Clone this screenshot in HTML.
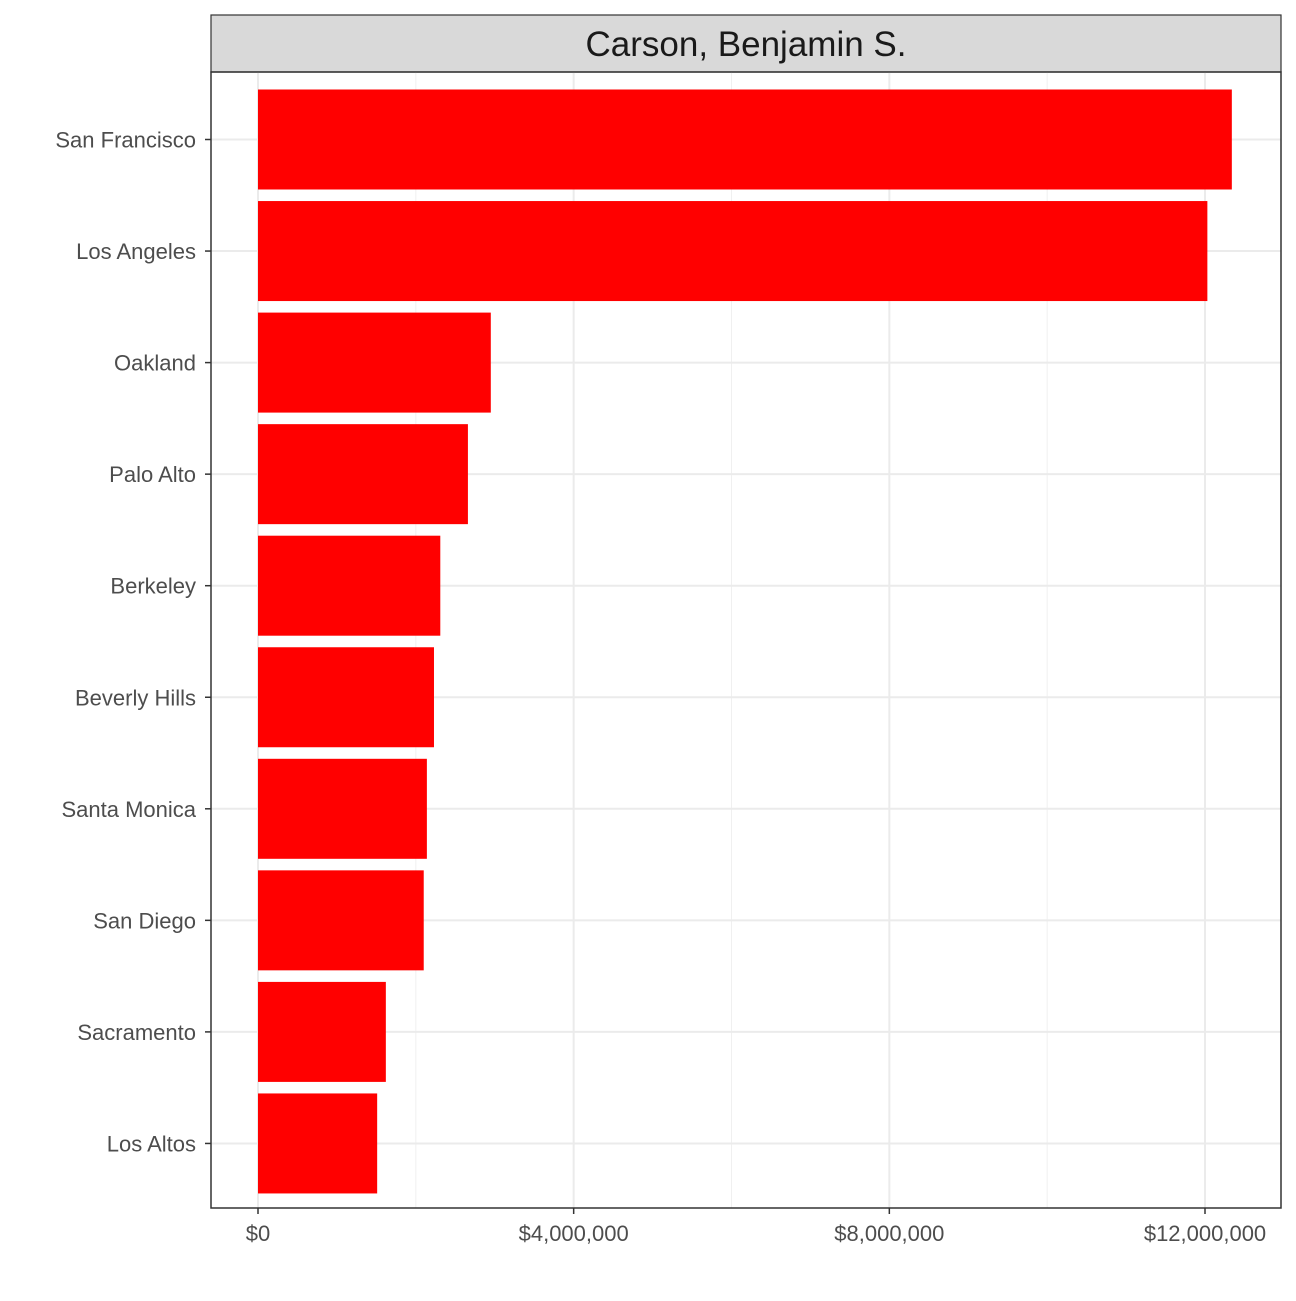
<!DOCTYPE html>
<html><head><meta charset="utf-8"><style>
body{margin:0;background:#fff}
svg text{font-family:"Liberation Sans",Arial,sans-serif}
</style></head><body>
<svg id="c" width="1296" height="1296" xmlns="http://www.w3.org/2000/svg"></svg>
<script>
const categories=["San Francisco","Los Angeles","Oakland","Palo Alto","Berkeley","Beverly Hills","Santa Monica","San Diego","Sacramento","Los Altos"];
const values=[12340000,12030000,2950000,2660000,2310000,2230000,2140000,2100000,1620000,1510000];
const xTicks=[0,4000000,8000000,12000000];
const xTickLabels=["$0","$4,000,000","$8,000,000","$12,000,000"];
const title="Carson, Benjamin S.";

const svg=document.getElementById('c');
const NS="http://www.w3.org/2000/svg";
const L=211,R=1281,T=72,B=1208;
const x=v=>258+v*(1205-258)/12000000;
const step=111.55, y0=139.5;
const y=i=>y0+i*step;
const bh=100;
function el(t,a,p){const e=document.createElementNS(NS,t);for(const k in a)e.setAttribute(k,a[k]);(p||svg).appendChild(e);return e;}
const strip=el('rect',{x:L,y:15,width:R-L,height:T-15,fill:'#d9d9d9',stroke:'#333','stroke-width':1.2});


const st=el('text',{x:(L+R)/2,y:56,'text-anchor':'middle','font-size':35,fill:'#1a1a1a'});
st.textContent=title;


for(let i=0;i<xTicks.length-1;i++){const m=(xTicks[i]+xTicks[i+1])/2;
const g=el('line',{x1:x(m),x2:x(m),y1:T,y2:B,stroke:'#f0f0f0','stroke-width':1});

}
xTicks.forEach(v=>{const g=el('line',{x1:x(v),x2:x(v),y1:T,y2:B,stroke:'#ebebeb','stroke-width':2});

});
categories.forEach((c,i)=>{const g=el('line',{x1:L,x2:R,y1:y(i),y2:y(i),stroke:'#ebebeb','stroke-width':2});

});
categories.forEach((c,i)=>{
const r=el('rect',{x:x(0),y:y(i)-bh/2,width:x(values[i])-x(0),height:bh,fill:'#ff0000'});


const tk=el('line',{x1:L-6,x2:L,y1:y(i),y2:y(i),stroke:'#333','stroke-width':1.5});


const t=el('text',{x:L-15,y:y(i)+8,'text-anchor':'end','font-size':22,fill:'#4d4d4d'});
t.textContent=c;


});
xTicks.forEach((v,i)=>{
const tk=el('line',{x1:x(v),x2:x(v),y1:B,y2:B+6,stroke:'#333','stroke-width':1.5});


const t=el('text',{x:x(v),y:B+33,'text-anchor':'middle','font-size':22,fill:'#4d4d4d'});
t.textContent=xTickLabels[i];


});
const p=el('rect',{x:L,y:T,width:R-L,height:B-T,fill:'none',stroke:'#333','stroke-width':1.5});


</script>
</body></html>
